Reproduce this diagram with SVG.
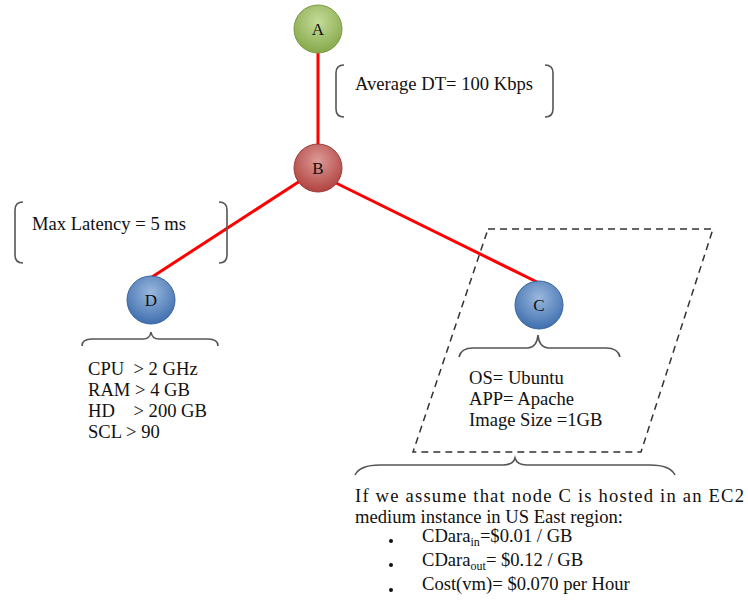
<svg xmlns="http://www.w3.org/2000/svg" width="748" height="600" viewBox="0 0 748 600">
<style>
.t{font-family:"Liberation Serif","Times New Roman",serif;font-size:18.6px;fill:#111;}
.n{font-family:"Liberation Serif","Times New Roman",serif;font-size:17px;fill:#111;text-anchor:middle;}
.edge{stroke:#ff0000;stroke-width:3;fill:none;}
.br{stroke:#555;stroke-width:1.6;fill:none;}
.dash{stroke:#333;stroke-width:1.5;fill:none;stroke-dasharray:7,5;}
.pre{white-space:pre;}
</style>
<defs>
<radialGradient id="gA" cx="50%" cy="35%" r="65%"><stop offset="0" stop-color="#c5dc9a"/><stop offset="1" stop-color="#86a84a"/></radialGradient>
<radialGradient id="gB" cx="50%" cy="35%" r="65%"><stop offset="0" stop-color="#dd9a97"/><stop offset="1" stop-color="#b04340"/></radialGradient>
<radialGradient id="gC" cx="50%" cy="35%" r="65%"><stop offset="0" stop-color="#9ab8de"/><stop offset="1" stop-color="#3f6fae"/></radialGradient>
</defs>
<g id="connectors">
<line class="edge" x1="318" y1="52" x2="318" y2="146"/>
<line class="edge" x1="300" y1="181" x2="152" y2="277"/>
<line class="edge" x1="336" y1="183" x2="539" y2="283"/>
</g>
<g id="nodeA"><circle cx="318" cy="29" r="24" fill="url(#gA)" stroke="#7a9a44" stroke-width="1"/><text class="n" x="318" y="35">A</text></g>
<g id="nodeB"><circle cx="318" cy="168" r="24" fill="url(#gB)" stroke="#9c3a38" stroke-width="1"/><text class="n" x="318" y="174">B</text></g>
<g id="nodeD"><circle cx="151" cy="300" r="24" fill="url(#gC)" stroke="#3a64a0" stroke-width="1"/><text class="n" x="151" y="306">D</text></g>
<g id="nodeC"><circle cx="539" cy="305" r="24" fill="url(#gC)" stroke="#3a64a0" stroke-width="1"/><text class="n" x="539" y="311">C</text></g>
<g id="labelAB">
<path class="br" d="M344,65 Q336,65 336,73 L336,109 Q336,117 344,117"/>
<path class="br" d="M545,65 Q553,65 553,73 L553,109 Q553,117 545,117"/>
<text class="t" x="355" y="90">Average DT= 100 Kbps</text>
</g>
<g id="labelBD">
<path class="br" d="M23,202 Q15,202 15,210 L15,255 Q15,263 23,263"/>
<path class="br" d="M219,202 Q227,202 227,210 L227,255 Q227,263 219,263"/>
<text class="t" x="32" y="230">Max Latency = 5 ms</text>
</g>
<g id="specD">
<path class="br" d="M82,346 Q82,339 92,339 L143,339 Q150,339 151,332 Q152,339 159,339 L208,339 Q218,339 218,346"/>
<text class="t pre" x="88" y="375">CPU  &gt; 2 GHz</text>
<text class="t pre" x="88" y="396">RAM &gt; 4 GB</text>
<text class="t pre" x="88" y="417">HD    &gt; 200 GB</text>
<text class="t pre" x="88" y="438">SCL &gt; 90</text>
</g>
<g id="hostC">
<polygon class="dash" points="488,229 713,229 641,452 413,452"/>
<path class="br" d="M459,357 Q461,348 473,348 L528,348 Q537,347 538,335 Q539,347 548,348 L606,348 Q618,348 620,357"/>
<text class="t" x="469" y="384">OS= Ubuntu</text>
<text class="t" x="469" y="405">APP= Apache</text>
<text class="t" x="469" y="426">Image Size =1GB</text>
</g>
<g id="costNote">
<path class="br" d="M355,475 Q360,465 380,465 L503,465 Q513,465 515,458 Q517,465 527,465 L650,465 Q670,465 675,475"/>
<text class="t" x="355" y="502" textLength="389" lengthAdjust="spacing">If we assume that node C is hosted in an EC2</text>
<text class="t" x="355" y="523">medium instance in US East region:</text>
<circle cx="391" cy="541" r="2" fill="#111"/>
<circle cx="391" cy="565" r="2" fill="#111"/>
<circle cx="391" cy="590" r="2" fill="#111"/>
<text class="t" x="422" y="542">CDara<tspan font-size="12" dy="4">in</tspan><tspan dy="-4">=$0.01 / GB</tspan></text>
<text class="t" x="422" y="566">CDara<tspan font-size="12" dy="4">out</tspan><tspan dy="-4">= $0.12 / GB</tspan></text>
<text class="t" x="422" y="590">Cost(vm)= $0.070 per Hour</text>
</g>
</svg>
